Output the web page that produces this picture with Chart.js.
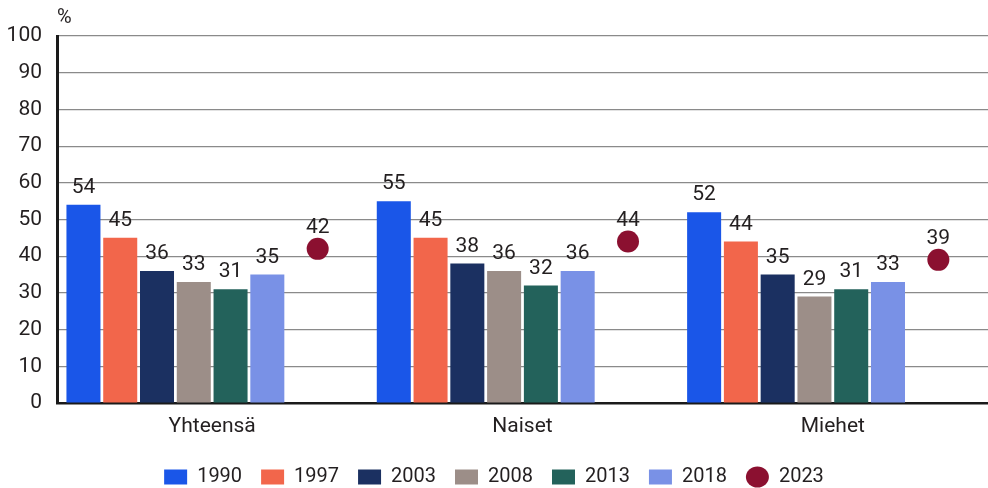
<!DOCTYPE html>
<html>
<head>
<meta charset="utf-8">
<title>Osuus vuosittain</title>
<script src="https://cdn.jsdelivr.net/npm/chart.js@4.4.1/dist/chart.umd.min.js"></script>
<style>
  html, body { margin: 0; padding: 0; background: #fff; }
  #wrap { width: 988px; height: 488px; }
</style>
</head>
<body>
<div id="wrap"><canvas id="chart" width="988" height="488"></canvas></div>
<script>
// Data
const categories = ['Yhteensä', 'Naiset', 'Miehet'];
const barYears = ['1990', '1997', '2003', '2008', '2013', '2018'];
const values1990 = [54, 55, 52];
const values1997 = [45, 45, 44];
const values2003 = [36, 38, 35];
const values2008 = [33, 36, 29];
const values2013 = [31, 32, 31];
const values2018 = [35, 36, 33];
const dotYear = '2023';
const values2023 = [42, 44, 39];
const yMin = 0;
const yMax = 100;
const yStep = 10;

// Styles
const barColors = ['#1a56e8', '#f2664b', '#1b3061', '#9c8e88', '#23625b', '#7991e6'];
const dotColor = '#8b1030';
const TEXT = '#231f20';
const FONT = 'Roboto, "Noto Sans", sans-serif';
const DOT_OFFSET = 0.34; // pisteen siirto kategorian keskeltä (kategorian leveyksinä)

const barSeries = [values1990, values1997, values2003, values2008, values2013, values2018];

const datasets = barSeries.map((vals, i) => ({
    type: 'bar',
    label: barYears[i],
    data: vals,
    backgroundColor: barColors[i],
    borderWidth: 0,
    pointStyle: 'rect',
    barPercentage: 0.925,
    categoryPercentage: 0.948
}));

// Kaksi tyhjää paikkaa ryhmän oikealle puolelle
for (let k = 0; k < 2; k++) {
    datasets.push({
        type: 'bar',
        label: '',
        spacer: true,
        data: categories.map(() => null),
        backgroundColor: 'rgba(0,0,0,0)',
        borderWidth: 0,
        barPercentage: 0.925,
        categoryPercentage: 0.948
    });
}

// 2023 pisteenä samalla kategoria-akselilla, hieman keskeltä oikealle
datasets.push({
    type: 'scatter',
    label: dotYear,
    parsing: false,
    data: values2023.map((v, i) => ({ x: i + DOT_OFFSET, y: v })),
    backgroundColor: dotColor,
    borderWidth: 0,
    pointStyle: 'circle',
    pointRadius: 11,
    pointHoverRadius: 11
});

// Arvot palkkien ja pisteiden yläpuolelle
const valueLabels = {
    id: 'valueLabels',
    afterDatasetsDraw(chart) {
        const ctx = chart.ctx;
        ctx.save();
        ctx.font = '21px ' + FONT;
        ctx.fillStyle = TEXT;
        ctx.textAlign = 'center';
        ctx.textBaseline = 'alphabetic';
        chart.data.datasets.forEach((ds, i) => {
            if (ds.spacer) return;
            const meta = chart.getDatasetMeta(i);
            meta.data.forEach((el, j) => {
                const raw = ds.data[j];
                const val = (raw !== null && typeof raw === 'object') ? raw.y : raw;
                const gap = ds.type === 'scatter' ? 16 : 12;
                ctx.fillText(String(val), el.x, el.y - gap);
            });
        });
        // Yksikkö y-akselin yläpuolelle
        ctx.textAlign = 'left';
        ctx.textBaseline = 'middle';
        ctx.font = '20px ' + FONT;
        ctx.fillText('%', chart.chartArea.left, 18);
        ctx.restore();
    }
};

new Chart(document.getElementById('chart'), {
    type: 'bar',
    data: {
        labels: categories,
        datasets: datasets
    },
    options: {
        responsive: false,
        animation: false,
        layout: {
            autoPadding: false,
            padding: { top: 36, right: 0, left: 0, bottom: -9 }
        },
        plugins: {
            tooltip: { enabled: false },
            legend: {
                position: 'bottom',
                labels: {
                    usePointStyle: true,
                    pointStyleWidth: 23,
                    boxHeight: 15,
                    padding: 19,
                    color: TEXT,
                    font: { family: FONT, size: 20 },
                    filter: (item, data) => !data.datasets[item.datasetIndex].spacer
                }
            }
        },
        scales: {
            x: {
                grid: { display: false, drawTicks: false },
                border: { color: '#1a1a1a', width: 2.5 },
                ticks: { color: TEXT, font: { family: FONT, size: 21 }, padding: 11 },
                afterFit: (scale) => { scale.height = 45; }
            },
            y: {
                min: yMin,
                max: yMax,
                ticks: {
                    stepSize: yStep,
                    color: TEXT,
                    font: { family: FONT, size: 21 },
                    padding: 15
                },
                grid: { color: '#8a8a8a', lineWidth: 1.2, drawTicks: false },
                border: { color: '#1a1a1a', width: 3 },
                afterFit: (scale) => { scale.width = 57; }
            }
        }
    },
    plugins: [valueLabels]
});
</script>
</body>
</html>
